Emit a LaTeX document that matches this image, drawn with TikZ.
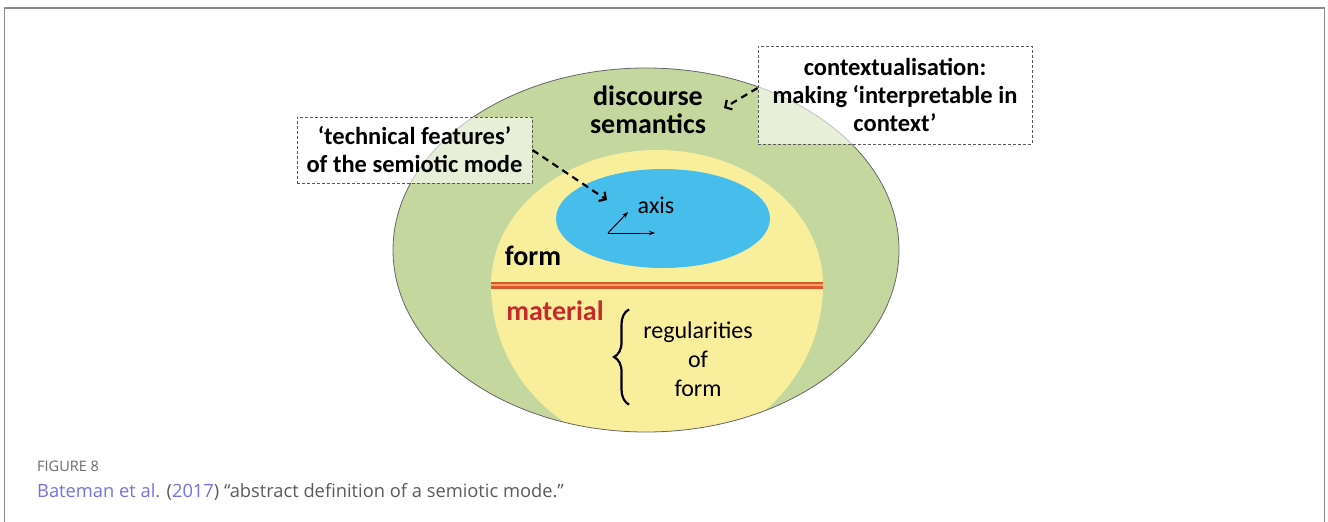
\documentclass[tikz,border=0pt]{standalone}
\usepackage{fontspec}
\setmainfont{Carlito}
\newfontfamily\captionfont{Open Sans}
\usetikzlibrary{arrows.meta,decorations.pathreplacing}
\definecolor{semgreen}{HTML}{C4D79E}
\definecolor{formyellow}{HTML}{F8EE9C}
\definecolor{axisblue}{HTML}{47BDEC}
\definecolor{matred}{HTML}{C62A2C}
\definecolor{linered}{HTML}{E1552C}
\definecolor{lineorange}{HTML}{F2A463}
\definecolor{capgray}{HTML}{5A5A5A}
\definecolor{linkblue}{HTML}{7670E4}

\begin{document}
\begin{tikzpicture}[x=1pt,y=-1pt,
  bigword/.style={font=\fontsize{28}{28}\selectfont\bfseries,align=center,inner sep=0pt},
  plainword/.style={font=\fontsize{24}{29}\selectfont,align=center,inner sep=0pt},
  note/.style={draw=black!65,dash pattern=on 3pt off 2pt,line width=0.9pt,fill=white,fill opacity=0.6,text opacity=1,
    align=center,inner sep=0pt,font=\fontsize{24.5}{28}\selectfont\bfseries},
  pointer/.style={dash pattern=on 7pt off 5pt,line width=2.2pt,-{Straight Barb[length=5pt,width=11pt]}},
  axisarrow/.style={line width=1pt,-{Stealth[length=6pt,width=4.5pt]}}]
\useasboundingbox (0,0) rectangle (1328,522);
\draw[black!45,line width=1.2pt] (4.5,522) -- (4.5,8) -- (1324.5,8) -- (1324.5,522);

\fill[semgreen] (646,250) ellipse [x radius=253pt,y radius=182pt];
\begin{scope}
\clip (646,250) ellipse [x radius=253pt,y radius=182pt];
\fill[formyellow] (491,285) arc [start angle=180,end angle=0,x radius=166pt,y radius=135pt]
  arc [start angle=0,end angle=-180,x radius=166pt,y radius=165pt] -- cycle;
\end{scope}
\draw[black!60,line width=0.8pt] (646,250) ellipse [x radius=253pt,y radius=182pt];
\fill[axisblue] (663,218.5) ellipse [x radius=107pt,y radius=49.5pt];
\draw[linered,line width=7pt] (491,285) -- (823,285);
\draw[lineorange,line width=2.5pt] (491,285) -- (823,285);

\node[bigword] (disc) at (648,110) {discourse\\semantics};
\node[bigword] (form) at (533,256) {form};
\node[bigword,text=matred] (material) at (555,311) {material};
\node[plainword] (regul) at (698,359) {regularities\\of\\form};
\node[plainword] (axis) at (656,205) {axis};
\draw[decorate,decoration={brace,amplitude=15pt},line width=2.2pt]
  ([xshift=-14pt,yshift=-8pt]regul.south west) -- ([xshift=-14pt,yshift=12pt]regul.north west);

\coordinate (origin) at (608,233);
\draw[axisarrow] (origin) -- ++(47,0);
\draw[axisarrow] (origin) -- ++(20,-21);

\node[note,minimum width=235pt,minimum height=66pt] (techbox) at (414.5,150) {‘technical features’\\of the semiotic mode};
\node[note,minimum width=274pt,minimum height=98pt] (ctxbox) at (895,95) {contextualisation:\\making ‘interpretable in\\context’};
\coordinate (techtip) at (607,200);
\coordinate (disctip) at (724,108);
\draw[pointer] (techbox.east) -- (techtip);
\draw[pointer] ([yshift=7pt]ctxbox.west) -- (disctip);

\node[anchor=base west,inner sep=0pt,font=\captionfont\fontsize{14.5}{16}\selectfont,text=capgray!90] (fignum) at (37,471) {FIGURE 8};
\node[anchor=base west,inner sep=0pt,font=\captionfont\fontsize{18.3}{20}\selectfont,text=capgray] (caption) at (37,497)
  {\textcolor{linkblue}{Bateman et al.} (\textcolor{linkblue}{2017}) “abstract definition of a semiotic mode.”};
\end{tikzpicture}
\end{document}
